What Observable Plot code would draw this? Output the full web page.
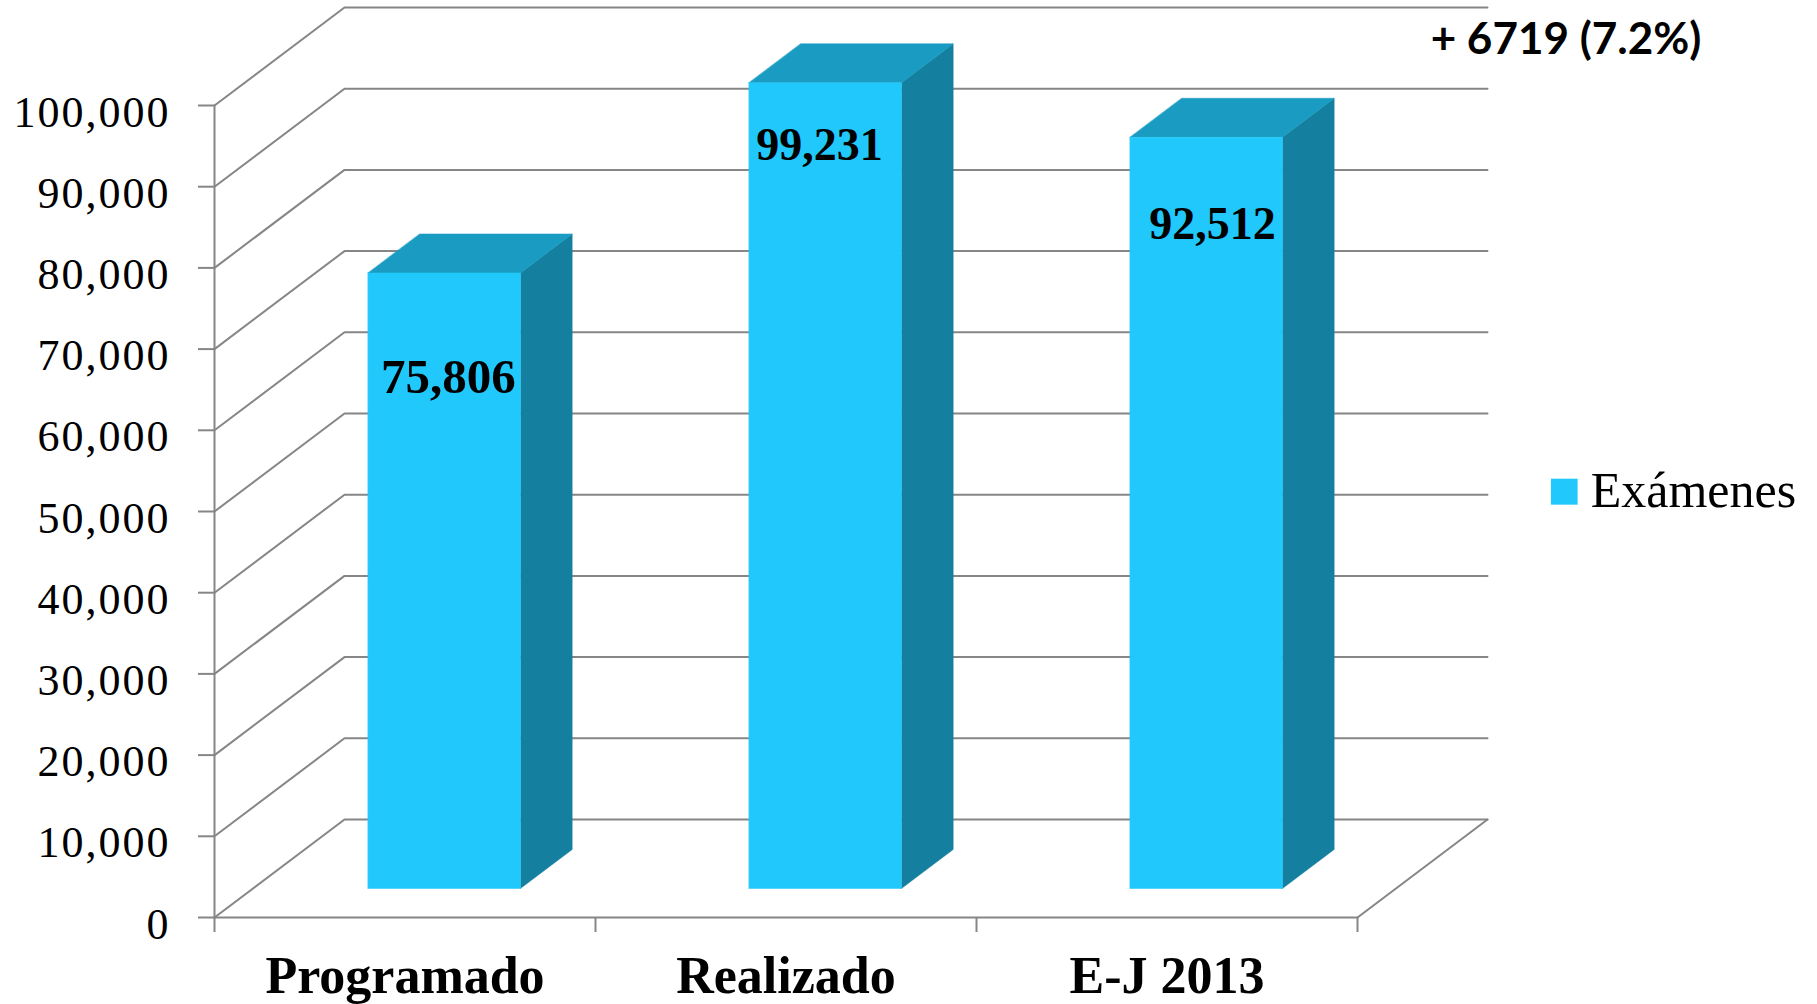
<!DOCTYPE html>
<html>
<head>
<meta charset="utf-8">
<script src="https://cdn.jsdelivr.net/npm/d3@7"></script>
<script src="https://cdn.jsdelivr.net/npm/@observablehq/plot@0.6"></script>
<style>
html,body{margin:0;padding:0;background:#fff}
svg{display:block}
g[aria-label="y-axis tick label"] text{letter-spacing:2px}
</style>
</head>
<body>
<div id="chart"></div>
<script>
const categories = ["Programado", "Realizado", "E-J 2013"];
const examenes = [75806, 99231, 92512];
const valueLabels = ["75,806", "99,231", "92,512"];
const yTicks = [0, 10000, 20000, 30000, 40000, 50000, 60000, 70000, 80000, 90000, 100000];
const annotation = "+ 6719 (7.2%)";
const legendLabel = "Exámenes";

// Layout: oblique projection of depth (0..1) into the chart's data units
const depthX = 130 / 381, depthY = 12069;
const barCenter = 0.502, barHalf = 0.2, barFront = 0.296, barBack = 0.694;
const labelDx = [5, -5, 7], labelDy = [104, 63, 87], labelSize = [49, 46, 46];
const gridColor = "#868686", faceColor = "#20C8FB", topColor = "#1A9BC2", sideColor = "#157FA0";
const serif = "Liberation Serif";

const P = (x, v, d) => ({x: x + depthX * d, y: v + depthY * d});
const poly = (pts, fill) => Plot.line(pts, {x: "x", y: "y", fill, stroke: fill, strokeWidth: 0.5, curve: "linear-closed"});
const stroke = pts => Plot.line(pts, {x: "x", y: "y", stroke: gridColor, strokeWidth: 2});
const nCat = categories.length;

const walls = yTicks.map(v => stroke([P(0, v, 0), P(0, v, 1), P(nCat, v, 1)]));
const floor = stroke([P(nCat, 0, 1), P(nCat, 0, 0)]);
const bars = examenes.flatMap((v, i) => {
  const l = i + barCenter - barHalf, r = i + barCenter + barHalf;
  return [
    poly([P(r, 0, barFront), P(r, 0, barBack), P(r, v, barBack), P(r, v, barFront)], sideColor),
    poly([P(l, v, barFront), P(r, v, barFront), P(r, v, barBack), P(l, v, barBack)], topColor),
    poly([P(l, 0, barFront), P(r, 0, barFront), P(r, v, barFront), P(l, v, barFront)], faceColor)
  ];
});
const labels = examenes.map((v, i) => {
  const p = P(i + 0.5, v, barFront);
  return Plot.text([valueLabels[i]], {
    x: () => p.x, y: () => p.y, dx: labelDx[i], dy: labelDy[i],
    fontFamily: serif, fontWeight: "bold", fontSize: labelSize[i], fill: "#000"
  });
});

const chart = Plot.plot({
  width: 1817, height: 1004,
  marginLeft: 214, marginRight: 460, marginTop: 105, marginBottom: 87,
  style: {background: "#fff", overflow: "visible"},
  x: {type: "linear", domain: [0, nCat]},
  y: {domain: [0, 100000]},
  marks: [
    ...walls,
    floor,
    stroke([P(0, 0, 0), P(0, 100000, 0)]),
    stroke([P(0, 0, 0), P(nCat, 0, 0)]),
    Plot.axisY({ticks: yTicks, tickFormat: () => "", tickSize: 16, label: null, stroke: gridColor, strokeWidth: 2}),
    Plot.axisY({ticks: yTicks, tickFormat: d3.format(","), tickSize: 0, tickPadding: 44, label: null,
      fill: "#000", fontFamily: serif, fontSize: 44, dy: 7}),
    Plot.axisX({ticks: d3.range(nCat + 1), tickFormat: () => "", tickSize: 15, label: null, stroke: gridColor, strokeWidth: 2}),
    Plot.axisX({ticks: categories.map((c, i) => i + 0.5), tickFormat: d => categories[Math.floor(d)], tickSize: 0, tickPadding: 39, label: null,
      fill: "#000", fontFamily: serif, fontWeight: "bold", fontSize: 52}),
    ...bars,
    ...labels,
    Plot.text([annotation], {x: () => 3.192, y: () => 108078, textAnchor: "start", fontFamily: "Lato", fontWeight: "bold", fontSize: 44, fill: "#000"}),
    Plot.rect([legendLabel], {x1: () => 3.509, x2: () => 3.579, y1: () => 50780, y2: () => 53980, fill: faceColor}),
    Plot.text([legendLabel], {x: () => 3.612, y: () => 52500, textAnchor: "start", fontFamily: serif, fontSize: 50, fill: "#000"})
  ]
});
document.getElementById("chart").append(chart);
</script>
</body>
</html>
